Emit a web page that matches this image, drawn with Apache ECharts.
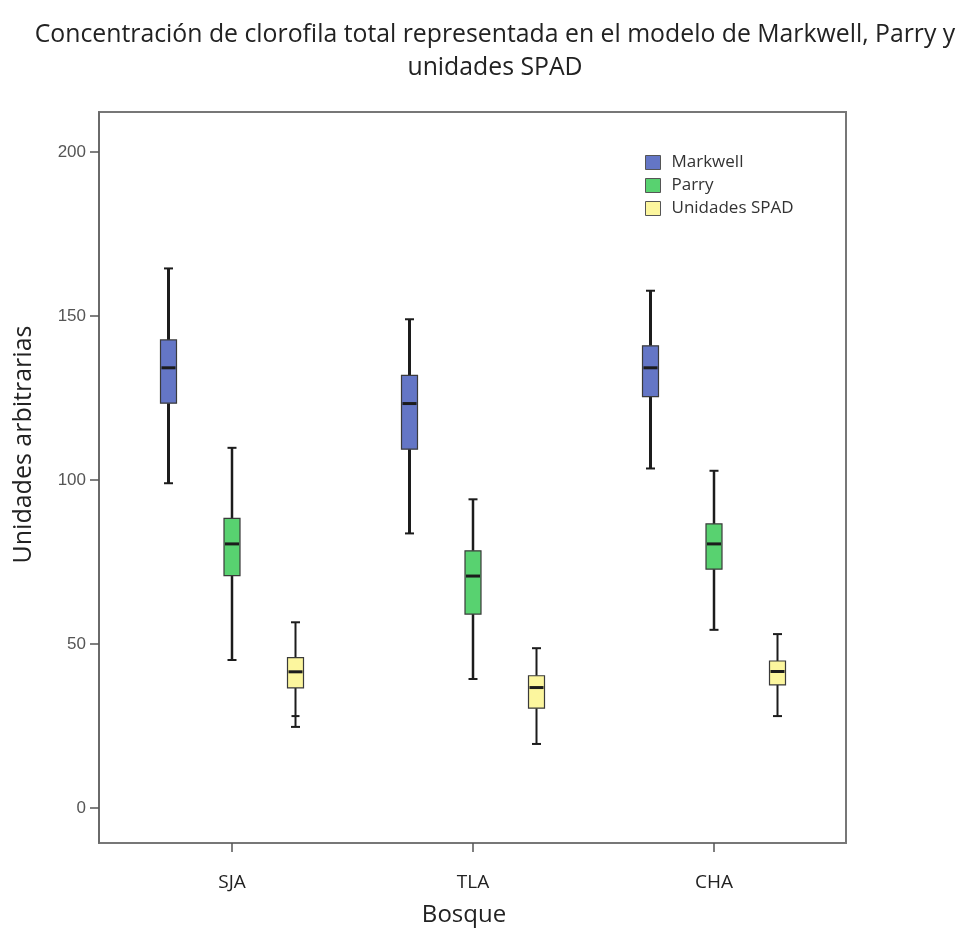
<!DOCTYPE html>
<html><head><meta charset="utf-8">
<script src="https://cdn.jsdelivr.net/npm/echarts@6/dist/echarts.min.js"></script>
<style>html,body{margin:0;padding:0;background:#fff}#c{width:960px;height:932px}</style>
</head><body><div id="c"></div>
<script>
const categories = ['SJA', 'TLA', 'CHA'];
const seriesNames = ['Markwell', 'Parry', 'Unidades SPAD'];
// each row: [min, Q1, median, Q3, max]
const markwell = [[99.0, 123.4, 134.2, 142.7, 164.5], [83.7, 109.4, 123.3, 131.9, 149.0], [103.5, 125.4, 134.2, 140.9, 157.7]];
const parry = [[45.1, 70.8, 80.5, 88.3, 109.8], [39.3, 59.1, 70.7, 78.4, 94.1], [54.3, 72.8, 80.5, 86.6, 102.8]];
const spad = [[24.7, 36.6, 41.5, 45.8, 56.6], [19.5, 30.4, 36.7, 40.3, 48.7], [28.0, 37.5, 41.6, 44.8, 53.0]];
const spadOutliers = [[0, 28.0]];
const yTicks = [0, 50, 100, 150, 200];

const Y_MIN = -10.7, Y_MAX = 212.2;
const SLOT = 0.2635, BOX_W = 16, CAP_W = 9;
const colors = ['#6476c6', '#58d270', '#fcf69e'];
const FONT = 'Open Sans';

function makeBoxSeries(name, rows, color, slot, lw) {
  return {
    type: 'custom', name: name, xAxisIndex: 1, yAxisIndex: 1,
    itemStyle: { color: color, borderColor: '#444', borderWidth: 1 },
    data: rows.map((r, i) => [i].concat(r)),
    encode: { x: 0, y: [1, 2, 3, 4, 5] },
    renderItem: function (params, api) {
      const ci = api.value(0);
      const band = api.size([1, 0])[0];
      const x = api.coord([ci, 0])[0] + slot * band * SLOT;
      const y = k => api.coord([ci, api.value(k)])[1];
      const yMin = y(1), yQ1 = y(2), yMed = y(3), yQ3 = y(4), yMax = y(5);
      const ln = (x1, y1, x2, y2, w) => ({ type: 'line', shape: { x1, y1, x2, y2 }, style: { stroke: '#1c1c1c', lineWidth: w } });
      return { type: 'group', children: [
        ln(x, yMax, x, yQ3, lw), ln(x, yQ1, x, yMin, lw),
        ln(x - CAP_W / 2, yMax, x + CAP_W / 2, yMax, 2), ln(x - CAP_W / 2, yMin, x + CAP_W / 2, yMin, 2),
        { type: 'rect', shape: { x: x - BOX_W / 2, y: yQ3, width: BOX_W, height: yQ1 - yQ3 }, style: { fill: color, stroke: '#3a3a3a', lineWidth: 1.2 } },
        ln(x - BOX_W / 2 + 1, yMed, x + BOX_W / 2 - 1, yMed, 3)
      ] };
    }
  };
}
function makeOutlierSeries(points, slot) {
  return {
    type: 'custom', name: 'outliers', xAxisIndex: 1, yAxisIndex: 1, silent: true,
    data: points,
    renderItem: function (params, api) {
      const band = api.size([1, 0])[0];
      const p = api.coord([api.value(0), api.value(1)]);
      const x = p[0] + slot * band * SLOT;
      return { type: 'line', shape: { x1: x - 4, y1: p[1], x2: x + 4, y2: p[1] }, style: { stroke: '#1c1c1c', lineWidth: 2 } };
    }
  };
}

const chart = echarts.init(document.getElementById('c'));
chart.setOption({
  animation: false,
  backgroundColor: '#fff',
  title: {
    text: 'Concentración de clorofila total representada en el modelo de Markwell, Parry y\nunidades SPAD',
    left: 490, top: 13, padding: 5, textAlign: 'center',
    textStyle: { fontFamily: FONT, fontSize: 24.8, fontWeight: 'normal', color: '#222', lineHeight: 33 }
  },
  legend: {
    orient: 'vertical', left: 640, top: 149,
    itemWidth: 15, itemHeight: 14, itemGap: 6,
    icon: 'rect',
    data: seriesNames,
    itemStyle: { borderColor: '#555', borderWidth: 1 },
    textStyle: { fontFamily: FONT, fontSize: 17, lineHeight: 14, color: '#333', padding: [0, 0, 0, 6] }
  },
  grid: [
    { left: 99, right: 114, top: 112, bottom: 89, show: true, borderColor: '#777', borderWidth: 2, backgroundColor: 'transparent' },
    { left: 111.5, right: 125.5, top: 112, bottom: 89 }
  ],
  xAxis: [
    { gridIndex: 0, type: 'category', data: categories, show: false },
    { gridIndex: 1, type: 'category', data: categories,
      axisLine: { show: false, onZero: false },
      axisTick: { show: true, alignWithLabel: true, length: 9, lineStyle: { color: '#555', width: 1.5 } },
      axisLabel: { margin: 30, fontSize: 19, color: '#222', fontFamily: FONT },
      splitLine: { show: false },
      name: 'Bosque', nameLocation: 'middle', nameGap: 60,
      nameTextStyle: { fontFamily: FONT, fontSize: 24, color: '#222', padding: [0, 18, 0, 0] } }
  ],
  yAxis: [
    { gridIndex: 0, type: 'value', min: Y_MIN, max: Y_MAX,
      splitLine: { show: false },
      axisLine: { show: true, onZero: false, lineStyle: { color: '#666', width: 1.5 } },
      axisTick: { show: true, customValues: yTicks, length: 9, lineStyle: { color: '#555', width: 1.5 } },
      axisLabel: { customValues: yTicks, fontSize: 17, color: '#555', margin: 13, fontFamily: 'Liberation Sans' },
      name: 'Unidades arbitrarias', nameLocation: 'middle', nameGap: 63,
      nameTextStyle: { fontFamily: FONT, fontSize: 25, color: '#222', padding: [0, 0, 0, 66] } },
    { gridIndex: 1, type: 'value', min: Y_MIN, max: Y_MAX, show: false, splitLine: { show: false } }
  ],
  series: [
    makeBoxSeries(seriesNames[0], markwell, colors[0], -1, 3),
    makeBoxSeries(seriesNames[1], parry, colors[1], 0, 2.5),
    makeBoxSeries(seriesNames[2], spad, colors[2], 1, 2),
    makeOutlierSeries(spadOutliers, 1)
  ]
});
</script></body></html>
